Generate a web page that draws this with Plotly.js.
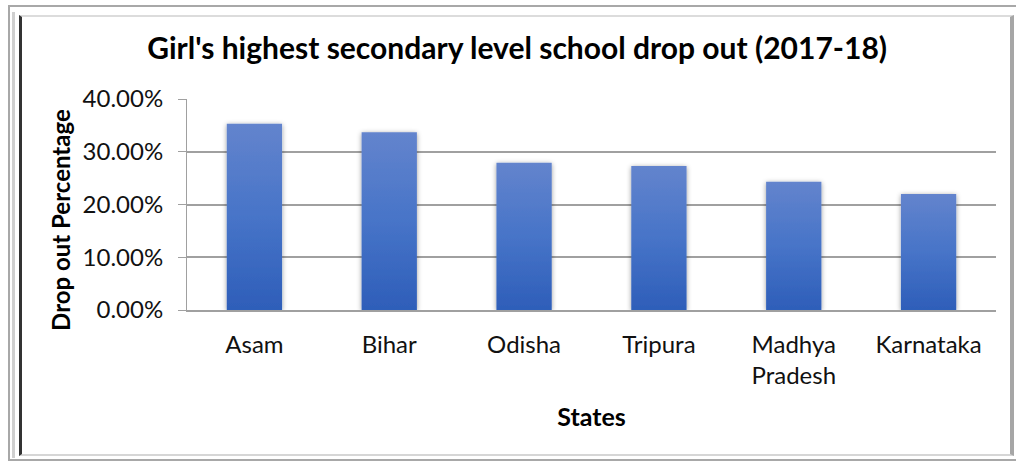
<!DOCTYPE html>
<html>
<head>
<meta charset="utf-8">
<script src="https://cdn.plot.ly/plotly-3.0.1.min.js"></script>
<style>
  html, body { margin: 0; padding: 0; background: #ffffff; }
  #chart { position: absolute; left: 0; top: 0; width: 1016px; height: 463px; }
  .frame { position: absolute; pointer-events: none; box-sizing: border-box; }
  #outer { left: 8px; top: 5px; width: 1020px; height: 456px;
           border-top: 2px solid #a8a8a8; border-left: 2px solid #a8a8a8; border-bottom: 2px solid #a8a8a8; }
  #band  { left: 12px; top: 12px; width: 3px; height: 446px; background: #cfcfcf; }
  #inner { left: 19px; top: 15px; width: 995px; height: 441px;
           border-left: 3px solid #333333; border-top: 2px solid #dcdcdc;
           border-right: 4px solid #a6a6a6; border-bottom: 2px solid #d6d6d6; }
</style>
</head>
<body>
<div id="chart"></div>
<div class="frame" id="outer"></div>
<div class="frame" id="band"></div>
<div class="frame" id="inner"></div>
<script>
// Girls' secondary-level drop-out rates by state, 2017-18
const states = ['Asam', 'Bihar', 'Odisha', 'Tripura', 'Madhya<br>Pradesh', 'Karnataka'];
const dropOut = [0.353, 0.337, 0.279, 0.273, 0.243, 0.220];
const yTicks = [0, 0.1, 0.2, 0.3, 0.4];

const FONT = 'Lato, "Liberation Sans", sans-serif';

const trace = {
  type: 'bar',
  x: states,
  y: dropOut,
  width: 0.41,
  marker: { color: '#4472c4', line: { width: 0 } },
  hoverinfo: 'x+y'
};

const layout = {
  width: 1016,
  height: 463,
  margin: { l: 187, r: 20, t: 99, b: 153 },
  paper_bgcolor: 'rgba(0,0,0,0)',
  plot_bgcolor: '#ffffff',
  showlegend: false,
  bargap: 0.59,
  title: {
    text: "<b>Girl's highest secondary level school drop out (2017-18)</b>",
    font: { family: FONT, size: 30, color: '#000000' },
    x: 0.509, xanchor: 'center', xref: 'container',
    y: 1 - 48 / 463, yanchor: 'middle', yref: 'container'
  },
  xaxis: {
    type: 'category',
    showgrid: false,
    showline: true, linecolor: '#a0a0a0', linewidth: 2,
    ticks: '',
    tickfont: { family: FONT, size: 24, color: '#111111' },
    ticklabelstandoff: 12,
    title: {
      text: '<b>States</b>',
      font: { family: FONT, size: 25, color: '#000000' },
      standoff: 20
    },
    automargin: false
  },
  yaxis: {
    range: [0, 0.4],
    tickvals: yTicks,
    tickformat: '.2%',
    showgrid: true, gridcolor: '#a0a0a0', gridwidth: 2,
    zeroline: false,
    showline: true, linecolor: '#a0a0a0', linewidth: 1,
    ticks: 'outside', ticklen: 8, tickcolor: '#a0a0a0', tickwidth: 1,
    tickfont: { family: FONT, size: 24, color: '#111111' },
    ticklabelstandoff: 10,
    automargin: false
  },
  // Vertical axis title, set a little below the plot's middle
  annotations: [{
    text: '<b>Drop out Percentage</b>',
    font: { family: FONT, size: 24, color: '#000000' },
    textangle: -90,
    xref: 'paper', yref: 'paper',
    x: (61 - 187) / 809, y: 0.427,
    xanchor: 'center', yanchor: 'middle',
    showarrow: false
  }]
};

Plotly.newPlot('chart', [trace], layout, { displayModeBar: false, staticPlot: true }).then(function (gd) {
  // Vertical gradient and soft shadow on the bars
  const svgNS = 'http://www.w3.org/2000/svg';
  const svg = gd.querySelector('svg.main-svg');
  let defs = svg.querySelector('defs');
  if (!defs) { defs = document.createElementNS(svgNS, 'defs'); svg.insertBefore(defs, svg.firstChild); }

  const grad = document.createElementNS(svgNS, 'linearGradient');
  grad.setAttribute('id', 'barFill');
  grad.setAttribute('x1', '0'); grad.setAttribute('y1', '0');
  grad.setAttribute('x2', '0'); grad.setAttribute('y2', '1');
  [['0%', '#6384cd'], ['50%', '#4774c8'], ['100%', '#2e5eb9']].forEach(function (s) {
    const stop = document.createElementNS(svgNS, 'stop');
    stop.setAttribute('offset', s[0]);
    stop.setAttribute('stop-color', s[1]);
    grad.appendChild(stop);
  });
  defs.appendChild(grad);

  const filt = document.createElementNS(svgNS, 'filter');
  filt.setAttribute('id', 'barShadow');
  filt.setAttribute('x', '-30%'); filt.setAttribute('y', '-10%');
  filt.setAttribute('width', '160%'); filt.setAttribute('height', '120%');
  const ds = document.createElementNS(svgNS, 'feDropShadow');
  ds.setAttribute('dx', '0'); ds.setAttribute('dy', '1');
  ds.setAttribute('stdDeviation', '2.5');
  ds.setAttribute('flood-color', '#000000');
  ds.setAttribute('flood-opacity', '0.4');
  filt.appendChild(ds);
  defs.appendChild(filt);

  gd.querySelectorAll('.bars .point path').forEach(function (p) {
    p.style.fill = 'url(#barFill)';
    p.setAttribute('filter', 'url(#barShadow)');
  });
});
</script>
</body>
</html>
